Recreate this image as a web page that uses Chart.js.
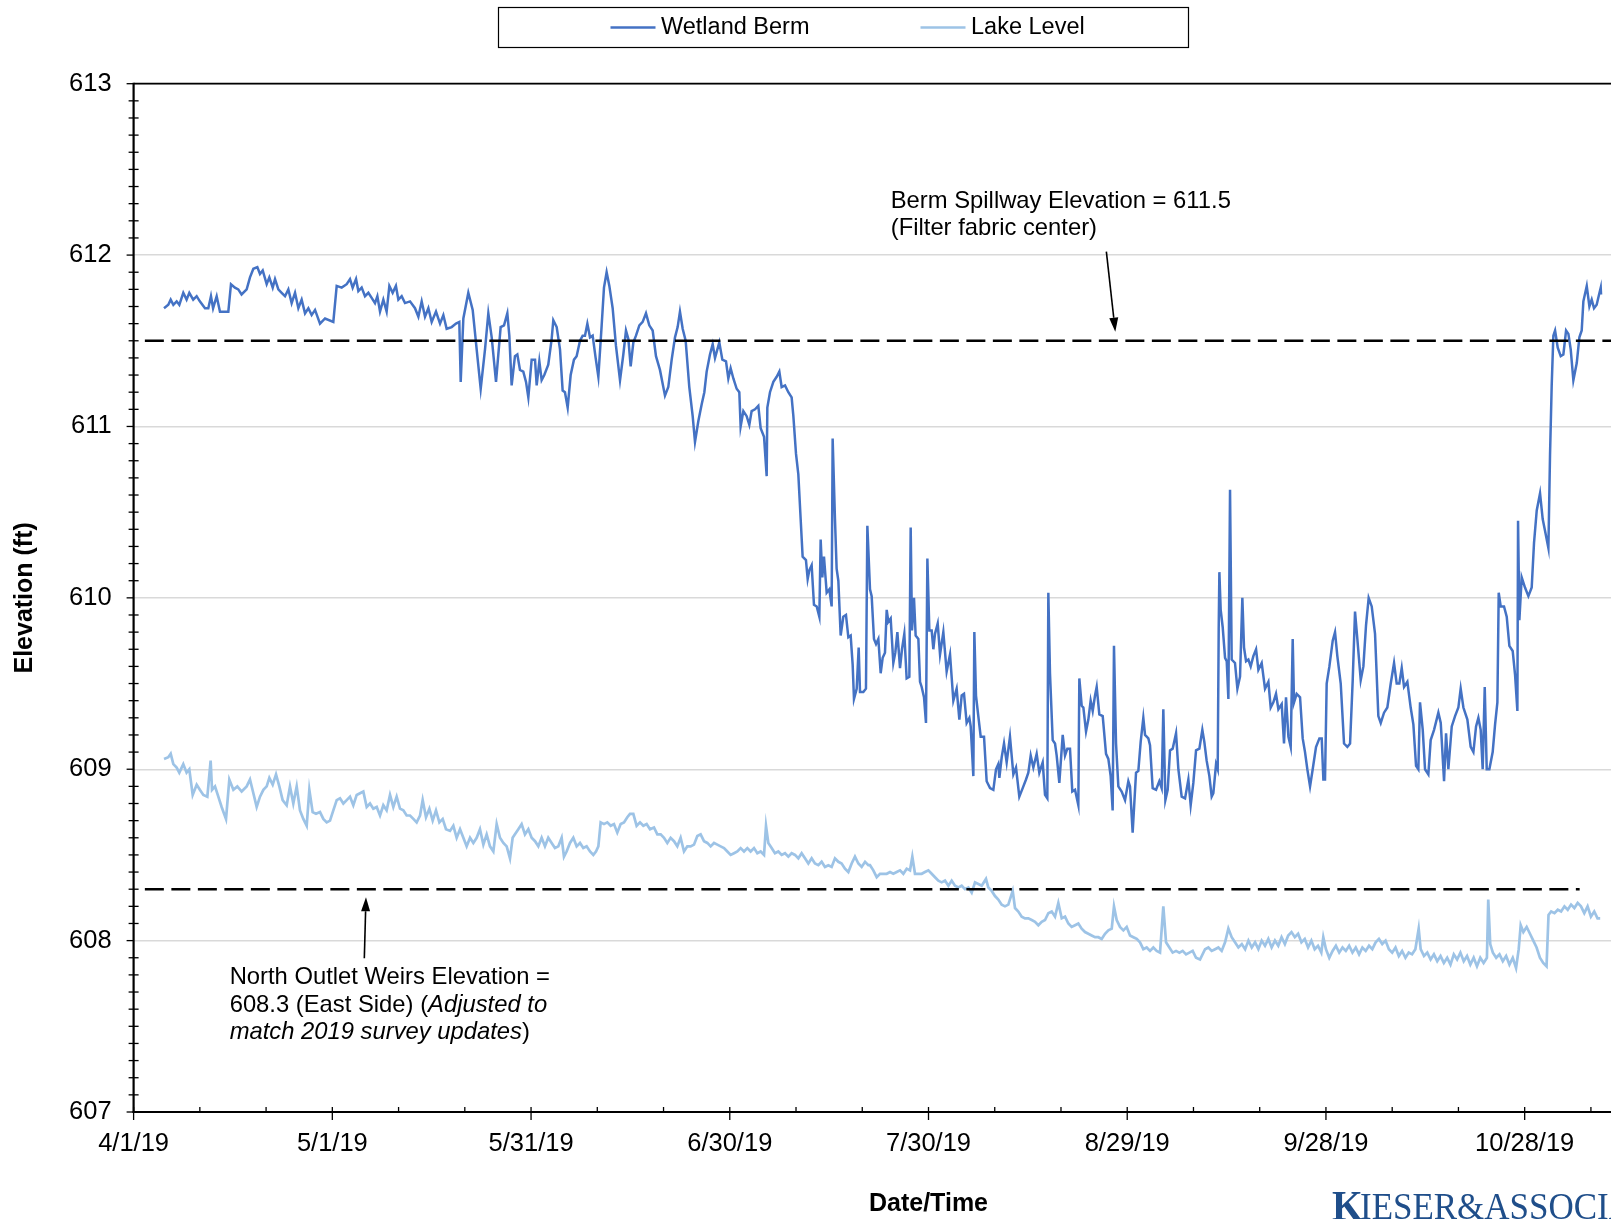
<!DOCTYPE html>
<html>
<head>
<meta charset="utf-8">
<script src="https://cdn.jsdelivr.net/npm/chart.js@4.4.1/dist/chart.umd.min.js"></script>
<style>
  html, body { margin: 0; padding: 0; overflow: hidden; background: #fff; width: 1611px; height: 1219px; }
  #wrap { position: relative; width: 1730px; height: 1219px; }
  canvas { display: block; }
</style>
</head>
<body>
<div id="wrap"><canvas id="chart" width="1730" height="1219"></canvas></div>
<script>
// Days are counted from 4/1/19 (day 0); elevations in feet.
const dateTickLabels = ['4/1/19', '5/1/19', '5/31/19', '6/30/19', '7/30/19', '8/29/19', '9/28/19', '10/28/19'];

const bermDays = [
  4.59, 5.24, 5.6, 6.0, 6.5, 6.9, 7.5, 8.0, 8.41, 9.0, 9.52, 10.0, 10.78, 11.28, 11.68, 12.0, 12.54, 13.04, 14.3, 14.7,
  15.3, 15.8, 16.3, 17.07, 17.57, 18.08, 18.68, 19.08, 19.49, 20.09, 20.49, 21.0, 21.35, 21.85, 22.35, 22.86, 23.36, 23.86, 24.37, 24.87,
  25.37, 25.88, 26.38, 26.88, 27.39, 28.14, 28.9, 30.15, 30.66, 31.41, 32.17, 32.67, 33.07, 33.58, 33.93, 34.43, 34.93, 35.44, 35.94, 36.44,
  36.8, 37.2, 37.7, 38.2, 38.61, 39.11, 39.6, 39.97, 40.47, 40.97, 41.73, 42.48, 42.99, 43.49, 43.99, 44.5, 45.0, 45.65, 46.26, 46.76,
  47.26, 48.02, 48.67, 49.17, 49.38, 49.78, 50.53, 51.19, 51.79, 52.4, 53.05, 53.55, 54.06, 54.71, 55.41, 55.92, 56.42, 56.72,
  57.07, 57.57, 57.93, 58.33, 58.83, 59.24, 59.59, 60.09, 60.6, 60.85, 61.25, 61.6, 62.0, 62.6, 63.11, 63.36, 63.87, 64.37, 64.77, 65.12,
  65.53, 65.98, 66.48, 66.88, 67.39, 67.79, 68.14, 68.5, 68.9, 69.3, 69.75, 70.16, 70.66, 71.01, 71.41, 71.82, 72.32, 72.82, 73.43, 73.93,
  74.33, 74.69, 75.04, 75.44, 75.84, 76.35, 76.85, 77.35, 77.85, 78.36, 78.86, 79.46, 80.22, 80.72, 81.23, 81.73, 82.13, 82.48, 82.89, 83.34,
  83.89, 84.4, 84.75, 85.25, 85.76, 86.16, 86.51, 87.01, 87.42, 87.77, 88.42, 88.88, 89.43, 89.78, 90.13, 90.54, 91.04, 91.44, 91.64, 92.05,
  92.55, 92.95, 93.3, 93.81, 94.31, 94.66, 95.17, 95.57, 95.67, 96.07, 96.58, 97.08, 97.48, 97.83, 98.34, 98.84, 99.34, 99.6, 100.0, 100.35,
  100.7, 101.0, 101.5, 101.76, 102.0, 102.36, 102.71, 103.12, 103.52, 103.72, 103.97, 104.22, 104.63, 105.03, 105.38, 105.53, 105.88, 106.13, 106.39, 106.74,
  107.14, 107.54, 107.9, 108.25, 108.55, 108.75, 109.16, 109.46, 109.66, 110.16, 110.56, 110.77, 111.17, 111.42, 111.77, 112.08, 112.43, 112.78, 113.08, 113.43,
  113.69, 113.94, 114.29, 114.69, 114.99, 115.3, 115.7, 116.0, 116.35, 116.7, 117.11, 117.31, 117.51, 117.81, 118.06, 118.47, 118.72, 118.97, 119.32, 119.62,
  119.83, 120.13, 120.48, 120.73, 120.98, 121.39, 121.74, 122.24, 122.74, 123.25, 123.75, 124.25, 124.66, 125.01, 125.36, 125.76, 126.17, 126.37, 126.77, 126.92,
  127.17, 127.52, 127.88, 128.38, 128.78, 129.29, 129.79, 130.19, 130.54, 130.7, 131.05, 131.4, 131.8, 132.3, 132.81, 133.21, 133.71, 134.22, 134.72, 135.07,
  135.43, 135.83, 136.33, 136.73, 137.24, 137.59, 137.94, 138.09, 138.34, 138.75, 139.1, 139.35, 139.75, 140.26, 140.61, 140.96, 141.36, 141.71, 142.12, 142.62,
  142.77, 143.13, 143.38, 143.78, 144.13, 144.48, 144.79, 145.14, 145.39, 145.79, 146.3, 146.8, 147.15, 147.5, 147.8, 148.0, 148.31, 148.66, 149.16, 149.67,
  150.17, 150.42, 150.82, 151.33, 151.68, 152.03, 152.43, 152.69, 153.19, 153.44, 153.84, 154.35, 154.85, 155.2, 155.45, 155.76, 156.11, 156.46, 156.86, 157.37,
  157.72, 158.22, 158.73, 159.23, 159.58, 159.98, 160.39, 160.89, 161.34, 161.64, 161.99, 162.4, 162.75, 163.0, 163.41, 163.66, 163.81, 163.91, 164.11, 164.41,
  164.77, 165.02, 165.27, 165.52, 165.77, 166.27, 166.63, 167.03, 167.38, 167.63, 167.94, 168.29, 168.64, 169.04, 169.45, 169.8, 170.3, 170.8, 171.31, 171.66,
  172.06, 172.46, 172.82, 173.32, 173.67, 173.97, 174.33, 174.68, 174.98, 175.18, 175.58, 176.09, 176.49, 176.84, 177.19, 177.6, 178.0, 178.5, 179.01, 179.36,
  179.61, 179.86, 180.11, 180.52, 181.02, 181.37, 181.72, 182.23, 182.73, 183.23, 183.64, 184.04, 184.39, 184.74, 185.25, 185.65, 186.05, 186.45, 186.91, 187.41,
  187.91, 188.27, 188.77, 189.27, 189.78, 190.28, 190.68, 191.08, 191.44, 191.79, 192.29, 192.79, 193.2, 193.6, 193.95, 194.2, 194.61, 194.96, 195.46, 195.81,
  196.32, 196.97, 197.33, 197.83, 198.13, 198.48, 198.99, 199.49, 199.99, 200.34, 200.75, 201.35, 201.85, 202.26, 202.66, 203.01, 203.36, 203.66, 203.97, 204.27,
  204.67, 205.17, 205.53, 205.88, 206.08, 206.38, 206.88, 207.29, 207.69, 208.19, 208.55, 208.9, 209.0, 209.2, 209.55, 210.05, 210.56, 211.06, 211.41, 211.82,
  212.32, 212.72, 213.08, 213.58, 213.83, 214.08, 214.33, 214.59, 214.99, 215.44, 215.84, 216.25, 216.6, 216.95, 217.35, 217.86, 218.26, 218.61, 218.86, 219.37,
  219.77, 220.12, 220.47, 220.87, 221.23, 221.48, 221.53
];
const bermElev = [
  611.69, 611.71, 611.74, 611.71, 611.73, 611.71, 611.78, 611.74, 611.78, 611.74, 611.76, 611.73, 611.69, 611.69, 611.76, 611.69, 611.76, 611.67, 611.67, 611.83,
  611.81, 611.80, 611.77, 611.80, 611.87, 611.92, 611.93, 611.89, 611.91, 611.83, 611.87, 611.81, 611.86, 611.80, 611.78, 611.76, 611.80, 611.72, 611.78, 611.69,
  611.74, 611.66, 611.69, 611.65, 611.68, 611.60, 611.63, 611.61, 611.82, 611.81, 611.83, 611.86, 611.81, 611.86, 611.79, 611.81, 611.76, 611.78, 611.75, 611.72,
  611.76, 611.67, 611.74, 611.67, 611.82, 611.78, 611.82, 611.74, 611.76, 611.72, 611.73, 611.69, 611.64, 611.73, 611.64, 611.69, 611.61, 611.67, 611.60, 611.65,
  611.57, 611.58, 611.60, 611.61, 611.26, 611.63, 611.78, 611.68, 611.45, 611.22, 611.45, 611.66, 611.52, 611.26, 611.58, 611.59, 611.66, 611.53,
  611.24, 611.41, 611.42, 611.33, 611.32, 611.26, 611.17, 611.39, 611.39, 611.24, 611.38, 611.27, 611.30, 611.36, 611.51, 611.62, 611.58, 611.45, 611.21, 611.20,
  611.11, 611.30, 611.39, 611.41, 611.50, 611.53, 611.53, 611.60, 611.52, 611.53, 611.40, 611.29, 611.59, 611.81, 611.90, 611.82, 611.69, 611.47, 611.27, 611.42,
  611.56, 611.51, 611.35, 611.49, 611.53, 611.59, 611.61, 611.66, 611.59, 611.56, 611.41, 611.33, 611.18, 611.23, 611.39, 611.52, 611.58, 611.67, 611.57, 611.50,
  611.23, 611.06, 610.91, 611.03, 611.13, 611.20, 611.32, 611.42, 611.48, 611.40, 611.49, 611.39, 611.38, 611.28, 611.34, 611.28, 611.22, 611.20, 611.00, 611.09,
  611.06, 611.01, 611.09, 611.10, 611.12, 610.99, 610.94, 610.71, 611.11, 611.20, 611.26, 611.29, 611.32, 611.23, 611.24, 611.20, 611.17, 611.06, 610.84, 610.72,
  610.46, 610.24, 610.22, 610.11, 610.16, 610.19, 609.96, 609.95, 609.89, 610.34, 610.12, 610.24, 610.03, 610.05, 609.95, 610.93, 610.46, 610.17, 610.10, 609.78,
  609.89, 609.90, 609.77, 609.78, 609.61, 609.41, 609.47, 609.71, 609.45, 609.45, 609.47, 610.42, 610.05, 610.01, 609.76, 609.73, 609.76, 609.56, 609.65, 609.68,
  609.93, 609.86, 609.88, 609.62, 609.68, 609.80, 609.59, 609.70, 609.79, 609.53, 609.54, 610.41, 609.81, 610.00, 609.78, 609.76, 609.51, 609.48, 609.42, 609.27,
  610.23, 609.81, 609.81, 609.70, 609.79, 609.85, 609.67, 609.80, 609.57, 609.67, 609.40, 609.47, 609.29, 609.43, 609.44, 609.27, 609.30, 609.25, 608.96, 609.80,
  609.43, 609.31, 609.19, 609.19, 608.93, 608.89, 608.88, 609.00, 609.03, 608.95, 609.07, 609.15, 609.04, 609.19, 608.97, 609.01, 608.84, 608.89, 608.94, 608.98,
  609.08, 609.01, 609.09, 608.98, 609.04, 608.85, 608.83, 610.03, 609.56, 609.17, 609.15, 609.08, 608.92, 609.20, 609.08, 609.12, 609.12, 608.87, 608.88, 608.79,
  609.53, 609.37, 609.36, 609.22, 609.29, 609.40, 609.34, 609.43, 609.48, 609.32, 609.31, 609.09, 609.06, 608.96, 608.76, 609.72, 609.15, 608.90, 608.87, 608.82,
  608.93, 608.90, 608.63, 608.98, 608.99, 609.16, 609.30, 609.20, 609.18, 609.14, 608.89, 608.88, 608.93, 608.89, 609.35, 608.82, 608.88, 609.11, 609.12, 609.21,
  609.00, 608.84, 608.83, 608.94, 608.79, 608.92, 609.11, 609.12, 609.23, 609.16, 609.05, 608.96, 608.84, 608.86, 609.03, 609.00, 609.82, 610.15, 609.93, 609.83,
  609.65, 609.63, 609.41, 610.63, 609.64, 609.62, 609.47, 609.54, 610.00, 609.71, 609.63, 609.64, 609.60, 609.66, 609.70, 609.58, 609.62, 609.47, 609.51, 609.36,
  609.39, 609.44, 609.35, 609.38, 609.15, 609.42, 609.19, 609.13, 609.76, 609.39, 609.44, 609.42, 609.18, 609.10, 609.00, 608.90, 609.00, 609.13, 609.18, 609.18,
  608.94, 608.94, 609.50, 609.60, 609.75, 609.80, 609.66, 609.50, 609.15, 609.13, 609.15, 609.52, 609.92, 609.76, 609.52, 609.60, 609.84, 610.00, 609.95, 609.79,
  609.31, 609.27, 609.33, 609.36, 609.50, 609.62, 609.50, 609.50, 609.59, 609.48, 609.51, 609.36, 609.26, 609.02, 609.00, 609.39, 609.23, 609.00, 608.97, 609.17,
  609.23, 609.33, 609.27, 608.93, 609.21, 609.00, 609.25, 609.31, 609.36, 609.47, 609.36, 609.29, 609.13, 609.10, 609.25, 609.30, 609.23, 609.00, 609.48, 609.00,
  609.00, 609.10, 609.26, 609.39, 610.03, 609.95, 609.95, 609.89, 609.72, 609.69, 609.55, 609.34, 610.45, 609.87, 610.12, 610.06, 610.01, 610.06, 610.32, 610.51,
  610.61, 610.46, 610.39, 610.29, 610.84, 611.24, 611.53, 611.56, 611.46, 611.41, 611.42, 611.56, 611.54, 611.45, 611.27, 611.37, 611.52, 611.56, 611.73, 611.82,
  611.70, 611.74, 611.69, 611.71, 611.77, 611.81, 611.77
];

const lakeDays = [
  4.59, 5.24, 5.6, 6.0, 6.5, 6.9, 7.5, 8.0, 8.41, 8.92, 9.52, 10.0, 10.53, 11.13, 11.63, 11.84, 12.29, 12.79, 13.29, 13.95,
  14.45, 15.06, 15.66, 16.31, 17.07, 17.57, 18.08, 18.58, 19.08, 19.59, 20.09, 20.49, 21.0, 21.5, 22.0, 22.5, 23.11, 23.61, 24.11, 24.62,
  25.12, 25.62, 26.13, 26.53, 27.03, 27.54, 28.14, 28.64, 29.15, 29.65, 30.15, 30.66, 31.16, 31.66, 32.17, 32.67, 33.17, 33.68, 34.18, 34.68,
  35.19, 35.69, 36.19, 36.7, 37.2, 37.7, 38.2, 38.71, 39.21, 39.71, 40.22, 40.72, 41.22, 41.73, 42.23, 42.73, 43.24, 43.64, 44.14, 44.65,
  45.15, 45.65, 46.16, 46.66, 47.16, 47.77, 48.27, 48.77, 49.28, 49.78, 50.28, 50.79, 51.29, 51.79, 52.29, 52.8, 53.3, 53.8, 54.31, 54.81,
  55.31, 55.82, 56.32, 56.82, 57.22, 57.57, 58.08, 58.58, 59.08, 59.59, 60.09, 60.6, 61.1, 61.6, 62.1, 62.6, 63.11, 63.61, 64.12, 64.62,
  64.97, 65.37, 65.88, 66.38, 66.88, 67.39, 67.89, 68.39, 68.9, 69.4, 69.8, 70.16, 70.51, 71.01, 71.51, 72.02, 72.52, 73.02, 73.53, 74.03,
  74.53, 74.94, 75.44, 75.94, 76.45, 76.95, 77.45, 77.96, 78.56, 79.06, 79.57, 80.07, 80.57, 81.07, 81.58, 82.08, 82.58, 83.09, 83.59, 84.09,
  84.6, 85.1, 85.6, 86.11, 86.61, 87.11, 87.62, 88.12, 88.62, 89.13, 89.63, 90.13, 90.64, 91.14, 91.64, 92.15, 92.65, 93.15, 93.66, 94.16,
  94.66, 95.17, 95.47, 95.82, 96.32, 96.82, 97.33, 97.83, 98.34, 98.84, 99.34, 99.85, 100.35, 100.85, 101.35, 101.86, 102.36, 102.86, 103.37, 103.87,
  104.37, 104.88, 105.38, 105.88, 106.39, 106.89, 107.39, 107.9, 108.4, 108.9, 109.41, 109.91, 110.42, 110.92, 111.17, 111.67, 112.18, 112.68, 113.18, 113.69,
  114.19, 114.69, 115.2, 115.7, 116.2, 116.71, 117.21, 117.56, 117.96, 118.47, 118.97, 119.47, 119.98, 120.48, 120.98, 121.49, 121.99, 122.49, 123.0, 123.5,
  124.0, 124.51, 125.01, 125.51, 126.02, 126.52, 127.02, 127.52, 128.03, 128.68, 129.03, 129.54, 130.04, 130.54, 131.05, 131.55, 132.05, 132.71, 133.06, 133.56,
  134.07, 134.57, 135.07, 135.58, 136.08, 136.58, 137.09, 137.59, 138.09, 138.6, 139.1, 139.6, 140.11, 140.61, 141.11, 141.61, 142.12, 142.62, 143.12, 143.63,
  144.13, 144.63, 145.14, 145.64, 146.14, 146.65, 147.15, 147.66, 148.0, 148.41, 148.91, 149.42, 149.92, 150.42, 150.93, 151.43, 151.93, 152.43, 152.94, 153.44,
  153.94, 154.45, 154.95, 155.45, 155.86, 156.36, 156.86, 157.37, 157.87, 158.37, 158.88, 159.38, 159.88, 160.39, 160.99, 161.75, 162.25, 162.75, 163.26, 163.76,
  164.26, 164.77, 165.27, 165.77, 166.27, 166.78, 167.3, 167.8, 168.3, 168.8, 169.3, 169.8, 170.3, 170.8, 171.3, 171.8, 172.3, 172.8, 173.3, 173.8,
  174.3, 174.8, 175.3, 175.8, 176.3, 176.8, 177.3, 177.8, 178.3, 178.8, 179.3, 179.6, 180.0, 180.5, 181.0, 181.5, 182.0, 182.5, 183.0, 183.5,
  184.0, 184.5, 185.0, 185.5, 186.0, 186.5, 187.0, 187.5, 188.0, 188.5, 189.0, 189.5, 190.0, 190.5, 191.0, 191.5, 192.0, 192.5, 193.0, 193.5,
  194.0, 194.3, 194.8, 195.3, 195.8, 196.3, 196.8, 197.3, 197.8, 198.3, 198.8, 199.3, 199.8, 200.3, 200.8, 201.3, 201.8, 202.3, 202.8, 203.3,
  203.8, 204.3, 204.5, 204.8, 205.2, 205.7, 206.2, 206.7, 207.2, 207.7, 208.2, 208.7, 209.1, 209.4, 209.8, 210.3, 210.8, 211.3, 211.8, 212.3,
  212.8, 213.3, 213.6, 214.0, 214.5, 215.0, 215.5, 216.0, 216.5, 217.0, 217.5, 218.0, 218.5, 219.0, 219.5, 220.0, 220.5, 221.0, 221.4
];
const lakeElev = [
  609.06, 609.07, 609.09, 609.03, 609.01, 608.98, 609.03, 608.98, 609.00, 608.85, 608.91, 608.88, 608.85, 608.84, 609.05, 608.88, 608.90, 608.84, 608.78, 608.71,
  608.94, 608.88, 608.90, 608.87, 608.90, 608.94, 608.86, 608.78, 608.84, 608.88, 608.90, 608.95, 608.91, 608.97, 608.90, 608.82, 608.79, 608.90, 608.80, 608.90,
  608.76, 608.71, 608.67, 608.88, 608.75, 608.74, 608.75, 608.71, 608.69, 608.70, 608.76, 608.82, 608.83, 608.80, 608.82, 608.84, 608.79, 608.85, 608.86, 608.87,
  608.78, 608.80, 608.77, 608.78, 608.73, 608.79, 608.76, 608.85, 608.78, 608.84, 608.77, 608.76, 608.73, 608.73, 608.71, 608.69, 608.73, 608.82, 608.72, 608.77,
  608.70, 608.76, 608.69, 608.71, 608.65, 608.64, 608.67, 608.60, 608.65, 608.60, 608.55, 608.60, 608.57, 608.60, 608.65, 608.56, 608.62, 608.55, 608.52, 608.68,
  608.60, 608.57, 608.55, 608.48, 608.60, 608.62, 608.65, 608.68, 608.62, 608.65, 608.60, 608.58, 608.55, 608.60, 608.55, 608.60, 608.57, 608.54, 608.55, 608.60,
  608.49, 608.52, 608.57, 608.60, 608.55, 608.57, 608.54, 608.55, 608.52, 608.50, 608.52, 608.55, 608.69, 608.68, 608.69, 608.67, 608.68, 608.63, 608.68, 608.69,
  608.72, 608.74, 608.74, 608.67, 608.69, 608.67, 608.68, 608.65, 608.66, 608.62, 608.62, 608.60, 608.57, 608.60, 608.58, 608.55, 608.60, 608.52, 608.55, 608.55,
  608.56, 608.61, 608.62, 608.58, 608.57, 608.55, 608.57, 608.56, 608.55, 608.54, 608.52, 608.50, 608.51, 608.52, 608.54, 608.52, 608.54, 608.52, 608.54, 608.51,
  608.52, 608.50, 608.67, 608.57, 608.54, 608.51, 608.52, 608.50, 608.51, 608.49, 608.51, 608.50, 608.48, 608.51, 608.48, 608.45, 608.48, 608.45, 608.44, 608.46,
  608.43, 608.44, 608.43, 608.48, 608.46, 608.45, 608.42, 608.40, 608.45, 608.49, 608.45, 608.43, 608.46, 608.44, 608.44, 608.41, 608.37, 608.39, 608.39, 608.39,
  608.40, 608.39, 608.40, 608.41, 608.39, 608.42, 608.41, 608.49, 608.39, 608.39, 608.39, 608.40, 608.41, 608.39, 608.37, 608.35, 608.34, 608.35, 608.32, 608.35,
  608.32, 608.31, 608.32, 608.30, 608.31, 608.28, 608.34, 608.33, 608.32, 608.36, 608.31, 608.29, 608.26, 608.24, 608.21, 608.20, 608.21, 608.29, 608.19, 608.17,
  608.14, 608.13, 608.13, 608.12, 608.11, 608.09, 608.11, 608.12, 608.16, 608.17, 608.14, 608.22, 608.13, 608.14, 608.10, 608.08, 608.09, 608.10, 608.07, 608.05,
  608.04, 608.03, 608.02, 608.02, 608.01, 608.04, 608.06, 608.07, 608.20, 608.12, 608.08, 608.06, 608.08, 608.03, 608.02, 608.01, 607.99, 607.95, 607.96, 607.94,
  607.96, 607.94, 607.93, 608.20, 607.99, 607.96, 607.93, 607.94, 607.93, 607.94, 607.92, 607.93, 607.94, 607.90, 607.89, 607.95, 607.96, 607.94, 607.95, 607.96,
  607.94, 607.99, 608.07, 608.02, 607.99, 607.96, 607.98, 607.95, 608.00, 607.96, 607.99, 607.95, 608.00, 607.97, 608.01, 607.96, 608.00, 607.97, 608.02, 607.98,
  608.03, 608.05, 608.02, 608.04, 607.99, 608.01, 607.96, 608.00, 607.95, 607.97, 607.93, 608.02, 607.95, 607.90, 607.94, 607.97, 607.93, 607.96, 607.94, 607.97,
  607.93, 607.96, 607.92, 607.96, 607.94, 607.97, 607.95, 607.99, 608.01, 607.98, 608.00, 607.95, 607.93, 607.96, 607.91, 607.94, 607.90, 607.93, 607.92, 607.95,
  608.07, 607.95, 607.91, 607.93, 607.89, 607.92, 607.88, 607.91, 607.87, 607.90, 607.86, 607.92, 607.89, 607.93, 607.88, 607.91, 607.86, 607.90, 607.85, 607.90,
  607.87, 607.90, 608.24, 607.98, 607.93, 607.90, 607.92, 607.88, 607.91, 607.86, 607.90, 607.84, 607.95, 608.09, 608.05, 608.08, 608.04, 608.00, 607.96, 607.90,
  607.87, 607.85, 608.15, 608.17, 608.16, 608.18, 608.17, 608.20, 608.18, 608.21, 608.19, 608.22, 608.20, 608.16, 608.20, 608.14, 608.17, 608.13, 608.13
];

// Reference elevations drawn as dashed lines
const spillwayElev = 611.5;
const spillwayDays = [1.7, 240];
const weirElev = 608.3;
const weirDays = [1.7, 218.3];

const BERM_COLOR = '#4472C4';
const LAKE_COLOR = '#9DC3E6';
const FONT = '"Liberation Sans", Arial, sans-serif';

const toPoints = (xs, ys) => xs.map((d, i) => ({ x: d, y: ys[i] }));
const flatLine = (xs, v) => xs.map(d => ({ x: d, y: v }));

function seg(ctx, x1, y1, x2, y2) {
  ctx.beginPath(); ctx.moveTo(x1, y1); ctx.lineTo(x2, y2); ctx.stroke();
}

function arrow(ctx, x1, y1, x2, y2) {
  const ang = Math.atan2(y2 - y1, x2 - x1);
  const len = 14, half = 4.5;
  const bx = x2 - len * Math.cos(ang), by = y2 - len * Math.sin(ang);
  ctx.lineWidth = 1.6;
  seg(ctx, x1, y1, bx, by);
  ctx.beginPath();
  ctx.moveTo(x2, y2);
  ctx.lineTo(bx + half * Math.sin(ang), by - half * Math.cos(ang));
  ctx.lineTo(bx - half * Math.sin(ang), by + half * Math.cos(ang));
  ctx.closePath();
  ctx.fill();
}

// Axis frame and the crossing / inside tick marks
const framePlugin = {
  id: 'frame',
  afterDraw(chart) {
    const { ctx, chartArea: a, scales: { x, y } } = chart;
    ctx.save();
    ctx.strokeStyle = '#000';
    ctx.lineWidth = 1.8;
    seg(ctx, a.left, a.top, a.right, a.top);
    ctx.lineWidth = 2.2;
    seg(ctx, a.left, a.top - 1, a.left, a.bottom + 1);
    seg(ctx, a.left - 1, a.bottom, a.right, a.bottom);
    ctx.lineWidth = 1.3;
    for (let k = 0; k <= 60; k++) {
      const py = y.getPixelForValue(607 + k / 10);
      if (k % 10 === 0) seg(ctx, a.left - 7, py, a.left, py);
      else seg(ctx, a.left - 5, py, a.left + 5, py);
    }
    for (let d = 0; d <= x.max; d += 10) {
      const px = x.getPixelForValue(d);
      if (d % 30 === 0) seg(ctx, px, a.bottom - 5, px, a.bottom + 8);
      else seg(ctx, px, a.bottom - 5, px, a.bottom);
    }
    ctx.restore();
  }
};

// Boxed legend across the top
const legendPlugin = {
  id: 'boxLegend',
  afterDraw(chart) {
    const { ctx } = chart;
    const items = chart.data.datasets.filter(ds => ds.inLegend);
    const slots = [610.5, 920.5];
    ctx.save();
    ctx.strokeStyle = '#000';
    ctx.lineWidth = 1.2;
    ctx.strokeRect(498.5, 7.5, 690, 40);
    ctx.font = '23.5px ' + FONT;
    ctx.textBaseline = 'middle';
    ctx.fillStyle = '#000';
    items.forEach((ds, i) => {
      const x0 = slots[i];
      ctx.strokeStyle = ds.borderColor;
      ctx.lineWidth = 2.6;
      seg(ctx, x0, 27.5, x0 + 45, 27.5);
      ctx.fillText(ds.label, x0 + 50.5, 28);
    });
    ctx.restore();
  }
};

// Text notes with arrows pointing at the reference elevations
const notesPlugin = {
  id: 'notes',
  afterDraw(chart) {
    const { ctx, scales: { x, y } } = chart;
    const P = (d, v) => [x.getPixelForValue(d), y.getPixelForValue(v)];
    const reg = '23.8px ' + FONT, ital = 'italic 23.8px ' + FONT;
    ctx.save();
    ctx.fillStyle = '#000';
    ctx.strokeStyle = '#000';
    ctx.textBaseline = 'alphabetic';
    ctx.textAlign = 'left';
    ctx.font = reg;

    let [tx, ty] = P(114.3, 612.275);
    ctx.fillText('Berm Spillway Elevation = 611.5', tx, ty);
    ctx.fillText('(Filter fabric center)', tx, ty + 26.8);
    const [a1x, a1y] = P(146.85, 612.02);
    const [a2x, a2y] = P(148.2, 611.553);
    arrow(ctx, a1x, a1y, a2x, a2y);

    [tx, ty] = P(14.5, 607.745);
    ctx.font = reg;
    ctx.fillText('North Outlet Weirs Elevation =', tx, ty);
    let cx = tx;
    const part1 = '608.3 (East Side) (';
    ctx.fillText(part1, cx, ty + 27.5); cx += ctx.measureText(part1).width;
    ctx.font = ital;
    ctx.fillText('Adjusted to', cx, ty + 27.5);
    cx = tx;
    const part3 = 'match 2019 survey updates';
    ctx.fillText(part3, cx, ty + 55); cx += ctx.measureText(part3).width;
    ctx.font = reg;
    ctx.fillText(')', cx, ty + 55);
    const [b1x, b1y] = P(34.83, 607.897);
    const [b2x, b2y] = P(35.08, 608.253);
    arrow(ctx, b1x, b1y, b2x, b2y);

    // Company wordmark at the lower right (slightly condensed serif)
    ctx.fillStyle = '#1F4E8A';
    ctx.translate(1332, 0);
    ctx.scale(0.92, 1);
    ctx.font = 'bold 43px "Liberation Serif", "DejaVu Serif", serif';
    ctx.fillText('K', 0, 1220);
    const kw = ctx.measureText('K').width;
    ctx.font = '38px "Liberation Serif", "DejaVu Serif", serif';
    ctx.fillText('IESER&ASSOCIATES', kw - 3, 1219);
    ctx.restore();
  }
};

Chart.defaults.font.family = FONT;
Chart.defaults.color = '#000';

new Chart(document.getElementById('chart'), {
  type: 'line',
  data: {
    datasets: [
      { label: 'Spillway', data: flatLine(spillwayDays, spillwayElev), borderColor: '#000', borderWidth: 2.6,
        borderDash: [19, 7.5], pointRadius: 0, order: 0 },
      { label: 'Weirs', data: flatLine(weirDays, weirElev), borderColor: '#000', borderWidth: 2.6,
        borderDash: [19, 7.5], pointRadius: 0, order: 0 },
      { label: 'Wetland Berm', data: toPoints(bermDays, bermElev), borderColor: BERM_COLOR, borderWidth: 2.5,
        pointRadius: 0, tension: 0, inLegend: true, order: 1 },
      { label: 'Lake Level', data: toPoints(lakeDays, lakeElev), borderColor: LAKE_COLOR, borderWidth: 2.7,
        pointRadius: 0, tension: 0, inLegend: true, order: 2 }
    ]
  },
  options: {
    responsive: false,
    animation: false,
    devicePixelRatio: 1,
    parsing: false,
    layout: { padding: { left: 0, top: 83.7, right: 6.6, bottom: 0 } },
    plugins: { legend: { display: false }, tooltip: { enabled: false } },
    scales: {
      x: {
        type: 'linear', min: 0, max: 240,
        afterFit: s => { s.height = 107; s.paddingRight = 0; },
        grid: { display: false, drawTicks: false },
        border: { display: false },
        ticks: {
          stepSize: 10, autoSkip: false, maxRotation: 0, padding: 17,
          font: { size: 25.5 },
          callback: v => (v % 30 === 0 && dateTickLabels[v / 30]) ? dateTickLabels[v / 30] : ''
        },
        title: { display: true, text: 'Date/Time', font: { size: 25, weight: 'bold' }, padding: { top: 0, bottom: 0 } }
      },
      y: {
        type: 'linear', min: 607, max: 613,
        afterFit: s => { s.width = 133.6; },
        grid: { color: '#D9D9D9', lineWidth: 1.4, drawTicks: false },
        border: { display: false },
        ticks: { stepSize: 1, padding: 22, font: { size: 25.5 }, callback: v => String(v) },
        title: { display: true, text: 'Elevation (ft)', font: { size: 25, weight: 'bold' }, padding: { top: 9.7, bottom: 0 } }
      }
    }
  },
  plugins: [framePlugin, legendPlugin, notesPlugin]
});
</script>
</body>
</html>
